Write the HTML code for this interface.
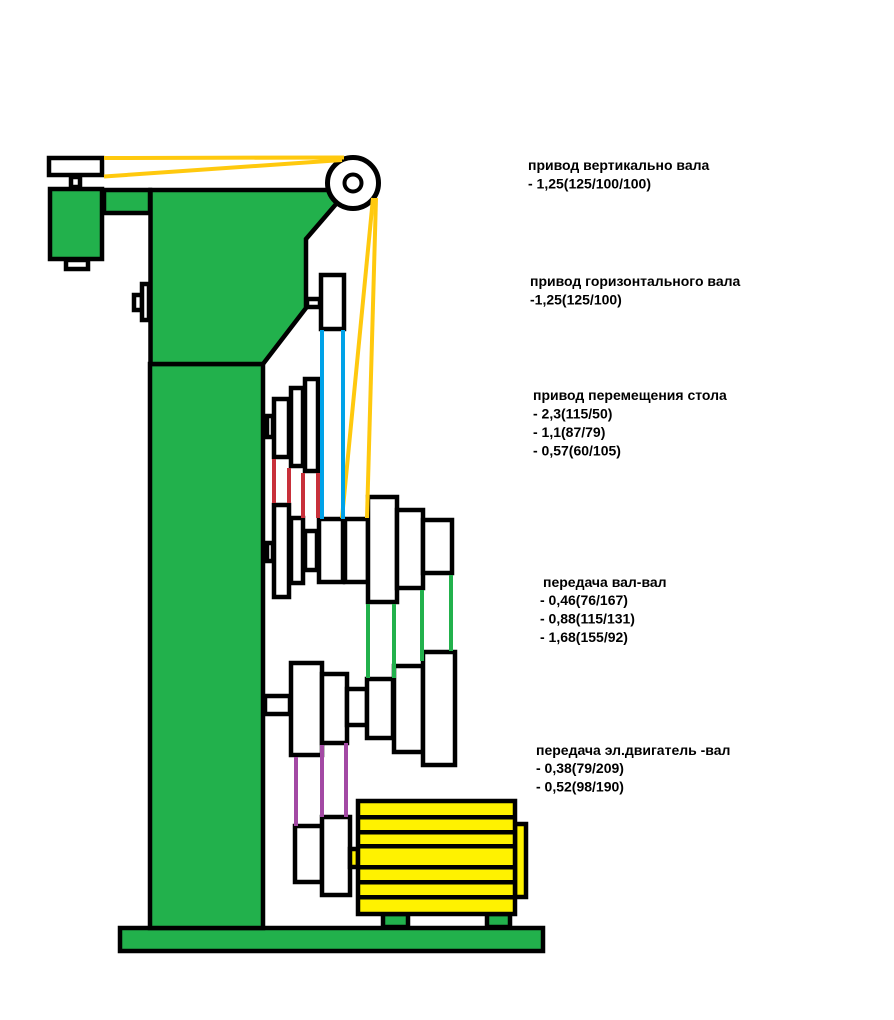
<!DOCTYPE html>
<html>
<head>
<meta charset="utf-8">
<style>
  html,body{margin:0;padding:0;background:#fff;}
  body{width:894px;height:1020px;overflow:hidden;position:relative;}
  svg{position:absolute;left:0;top:0;}
  .t{font-family:"Liberation Sans","Noto Sans CJK SC",sans-serif;font-weight:bold;font-size:14px;fill:#000;}
</style>
</head>
<body>
<svg width="894" height="1020" viewBox="0 0 894 1020" xmlns="http://www.w3.org/2000/svg">
  <rect width="894" height="1020" fill="#fff"/>

  <g stroke="#000" stroke-width="4.5" stroke-linejoin="miter">
    <!-- base -->
    <rect x="120" y="928" width="423" height="23" fill="#22b14c"/>
    <!-- lower column -->
    <rect x="150" y="364" width="113" height="564" fill="#22b14c"/>
    <!-- upper column -->
    <polygon points="150.5,190 335,190 337,203 306,239 306,308 263,364 150.5,364" fill="#22b14c"/>
    <!-- arm -->
    <rect x="104" y="190" width="46" height="23" fill="#22b14c"/>
    <!-- motor box top left -->
    <rect x="50" y="189" width="52" height="70" fill="#22b14c"/>
    <!-- bottom tab -->
    <rect x="66" y="260" width="22" height="9" fill="#fff"/>
    <!-- neck -->
    <rect x="71" y="177" width="9" height="10" fill="#fff"/>
    <!-- top-left pulley -->
    <rect x="49" y="158" width="53" height="17" fill="#fff"/>
    <!-- column left stub + pulley -->
    <rect x="134" y="295" width="8" height="15" fill="#fff"/>
    <rect x="142" y="284" width="7" height="36" fill="#fff"/>

    <!-- horizontal shaft stub + pulley -->
    <rect x="307" y="299" width="13" height="8" fill="#fff"/>
    <rect x="321" y="275" width="23" height="54" fill="#fff"/>

    <!-- upper stepped pulley -->
    <rect x="267" y="416" width="6" height="21" fill="#fff"/>
    <rect x="274" y="399" width="15" height="58" fill="#fff"/>
    <rect x="291" y="388" width="12" height="78" fill="#fff"/>
    <rect x="305" y="379" width="13" height="92" fill="#fff"/>

    <!-- main shaft pulleys -->
    <rect x="267" y="543" width="6" height="18" fill="#fff"/>
    <rect x="274" y="505" width="15" height="92" fill="#fff"/>
    <rect x="291" y="518" width="12" height="65" fill="#fff"/>
    <rect x="305" y="531" width="12" height="39" fill="#fff"/>
    <rect x="319" y="519" width="24" height="63" fill="#fff"/>
    <rect x="345" y="519" width="23" height="63" fill="#fff"/>
    <rect x="368" y="497" width="29" height="105" fill="#fff"/>
    <rect x="397" y="510" width="26" height="78" fill="#fff"/>
    <rect x="423" y="520" width="29" height="53" fill="#fff"/>

    <!-- lower shaft pulleys -->
    <rect x="265" y="696" width="25" height="18" fill="#fff"/>
    <rect x="291" y="663" width="31" height="92" fill="#fff"/>
    <rect x="322" y="674" width="25" height="69" fill="#fff"/>
    <rect x="347" y="689" width="20" height="36" fill="#fff"/>
    <rect x="367" y="679" width="26" height="59" fill="#fff"/>
    <rect x="394" y="666" width="29" height="86" fill="#fff"/>
    <rect x="423" y="652" width="32" height="113" fill="#fff"/>

    <!-- motor pulleys -->
    <rect x="295" y="826" width="27" height="56" fill="#fff"/>
    <rect x="322" y="817" width="28" height="78" fill="#fff"/>
    <rect x="350" y="849" width="8" height="18" fill="#fff200"/>

    <!-- motor feet -->
    <rect x="383" y="914" width="25" height="13" fill="#22b14c"/>
    <rect x="487" y="914" width="23" height="13" fill="#22b14c"/>
    <!-- back cap -->
    <rect x="515" y="824" width="11" height="73" fill="#fff200"/>
    <!-- motor body -->
    <rect x="358" y="801" width="157" height="113" fill="#fff200"/>
  </g>
  <!-- motor stripes -->
  <g fill="#000">
    <rect x="358" y="815" width="157" height="4.5"/>
    <rect x="358" y="830" width="157" height="4.5"/>
    <rect x="358" y="844" width="157" height="4.5"/>
    <rect x="358" y="865" width="157" height="4.5"/>
    <rect x="358" y="880" width="157" height="4.5"/>
    <rect x="358" y="895" width="157" height="4.5"/>
  </g>

  <!-- big pulley top -->
  <circle cx="353" cy="183" r="25.5" fill="#fff" stroke="#000" stroke-width="5"/>
  <circle cx="353" cy="183" r="8.5" fill="#fff" stroke="#000" stroke-width="4"/>

  <!-- belts -->
  <g stroke-width="4" stroke-linecap="butt" fill="none">
    <!-- yellow -->
    <line x1="104" y1="158" x2="344" y2="157.5" stroke="#ffc90e"/>
    <line x1="104" y1="176.5" x2="342" y2="160" stroke="#ffc90e"/>
    <line x1="373" y1="198" x2="342" y2="518" stroke="#ffc90e"/>
    <line x1="376" y1="198" x2="367" y2="518" stroke="#ffc90e"/>
    <!-- blue -->
    <line x1="322" y1="330" x2="322" y2="519" stroke="#00a2e8"/>
    <line x1="343" y1="330" x2="343" y2="519" stroke="#00a2e8"/>
    <!-- red -->
    <line x1="274" y1="459" x2="274" y2="503" stroke="#c8303a"/>
    <line x1="289" y1="468" x2="289" y2="503" stroke="#c8303a"/>
    <line x1="303" y1="473" x2="303" y2="518" stroke="#c8303a"/>
    <line x1="318" y1="473" x2="318" y2="518" stroke="#c8303a"/>
    <!-- green -->
    <line x1="368" y1="604" x2="368" y2="678" stroke="#22b14c"/>
    <line x1="394" y1="604" x2="394" y2="678" stroke="#22b14c"/>
    <line x1="422" y1="590" x2="422" y2="661" stroke="#22b14c"/>
    <line x1="451" y1="575" x2="451" y2="651" stroke="#22b14c"/>
    <!-- purple -->
    <line x1="296" y1="757" x2="296" y2="826" stroke="#a349a4"/>
    <line x1="322" y1="745" x2="322" y2="817" stroke="#a349a4"/>
    <line x1="346" y1="743" x2="346" y2="817" stroke="#a349a4"/>
  </g>

  <!-- labels -->
  <text class="t" x="528" y="170">привод вертикально вала</text>
  <text class="t" x="528" y="188.5">- 1,25(125/100/100)</text>

  <text class="t" x="530" y="286">привод горизонтального вала</text>
  <text class="t" x="530" y="304.5">-1,25(125/100)</text>

  <text class="t" x="533" y="400">привод перемещения стола</text>
  <text class="t" x="533" y="418.5">- 2,3(115/50)</text>
  <text class="t" x="533" y="437">- 1,1(87/79)</text>
  <text class="t" x="533" y="455.5">- 0,57(60/105)</text>

  <text class="t" x="543" y="587">передача вал-вал</text>
  <text class="t" x="540" y="605">- 0,46(76/167)</text>
  <text class="t" x="540" y="623.5">- 0,88(115/131)</text>
  <text class="t" x="540" y="642">- 1,68(155/92)</text>

  <text class="t" x="536" y="755">передача эл.двигатель -вал</text>
  <text class="t" x="536" y="773">- 0,38(79/209)</text>
  <text class="t" x="536" y="791.5">- 0,52(98/190)</text>
</svg>
</body>
</html>
